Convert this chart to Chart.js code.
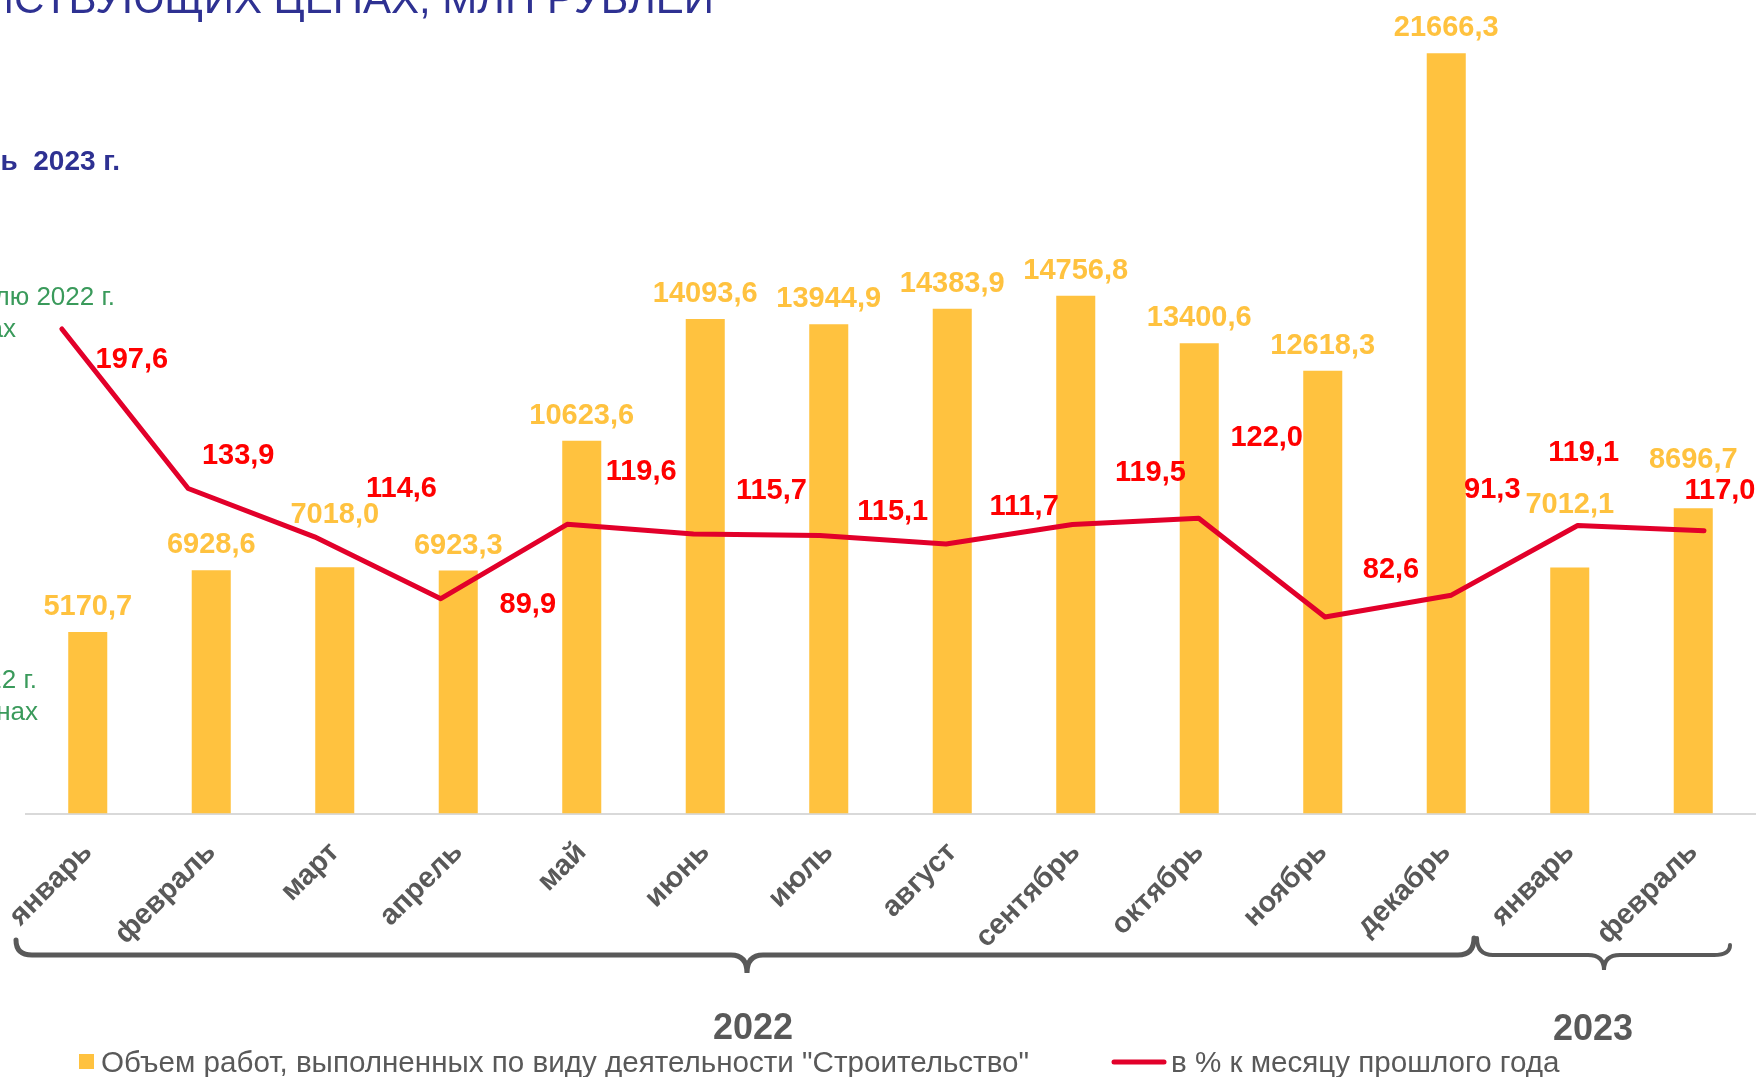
<!DOCTYPE html>
<html lang="ru">
<head>
<meta charset="utf-8">
<script src="https://cdn.jsdelivr.net/npm/chart.js@4.4.0/dist/chart.umd.min.js"></script>
<style>
  html, body { margin: 0; padding: 0; background: #fff; }
  canvas { display: block; }
</style>
</head>
<body>
<canvas id="chart" width="1760" height="1077"></canvas>
<script>
const months = ['январь', 'февраль', 'март', 'апрель', 'май', 'июнь', 'июль', 'август', 'сентябрь', 'октябрь', 'ноябрь', 'декабрь', 'январь', 'февраль'];
const years = ['2022', '2023'];
const volume = [5170.7, 6928.6, 7018.0, 6923.3, 10623.6, 14093.6, 13944.9, 14383.9, 14756.8, 13400.6, 12618.3, 21666.3, 7012.1, 8696.7];
const percentOfLastYear = [197.6, 133.9, 114.6, 89.9, 119.6, 115.7, 115.1, 111.7, 119.5, 122.0, 82.6, 91.3, 119.1, 117.0];
const volumeLabel = 'Объем работ, выполненных по виду деятельности "Строительство"';
const percentLabel = 'в % к месяцу прошлого года';

// labels on the slide were nudged by hand, keep the same nudges
const volumeLabelLift = [0, 0, 27, 0, 0, 0, 0, 0, 0, 0, 0, 0, 37, 23];
const percentLabelShift = [[70, 31], [50, -33], [87, -48], [87, 6], [74, -52], [78, -43], [73, -24], [78, -37], [78, -52], [68, -80], [66, -47], [41, -105], [6, -73], [16, -40]];

const FONT = '"Liberation Sans", Arial, sans-serif';
const GREY = '#595959';
const YELLOW = '#FFC23F';
const CRIMSON = '#E2002A';
const fmt = v => v.toFixed(1).replace('.', ',');

function drawBrace(ctx, x1, x2, xm, yL, yR, yLine, yTip, r, w) {
  ctx.save();
  ctx.strokeStyle = GREY;
  ctx.lineWidth = w;
  ctx.lineCap = 'round';
  ctx.beginPath();
  ctx.moveTo(x1, yL);
  ctx.quadraticCurveTo(x1, yLine, x1 + r, yLine);
  ctx.lineTo(xm - r, yLine);
  ctx.quadraticCurveTo(xm, yLine, xm, yTip);
  ctx.quadraticCurveTo(xm, yLine, xm + r, yLine);
  ctx.lineTo(x2 - r, yLine);
  ctx.quadraticCurveTo(x2, yLine, x2, yR);
  ctx.stroke();
  ctx.restore();
}

const slideDecor = {
  id: 'slideDecor',
  afterDatasetsDraw(chart) {
    const { ctx } = chart;
    const bars = chart.getDatasetMeta(0).data;
    const pts = chart.getDatasetMeta(1).data;
    ctx.save();
    ctx.font = 'bold 29px ' + FONT;
    ctx.textAlign = 'center';
    ctx.textBaseline = 'middle';
    ctx.fillStyle = YELLOW;
    bars.forEach((bar, i) => {
      ctx.fillText(fmt(volume[i]), bar.x, bar.y - 25 - volumeLabelLift[i]);
    });
    ctx.fillStyle = '#FF0000';
    pts.forEach((pt, i) => {
      const [dx, dy] = percentLabelShift[i];
      ctx.fillText(fmt(percentOfLastYear[i]), pt.x + dx, pt.y + dy);
    });
    ctx.restore();
  },
  afterDraw(chart) {
    const { ctx } = chart;
    ctx.save();

    // year braces under the month labels
    drawBrace(ctx, 16, 1474, 747, 940, 938, 955, 973, 16, 5);
    drawBrace(ctx, 1477, 1730, 1604, 938, 945, 955, 970, 16, 4);
    ctx.fillStyle = GREY;
    ctx.font = 'bold 36px ' + FONT;
    ctx.textAlign = 'center';
    ctx.textBaseline = 'alphabetic';
    ctx.fillText(years[0], 753, 1039);
    ctx.fillText(years[1], 1593, 1040);

    // legend
    ctx.fillStyle = YELLOW;
    ctx.fillRect(79, 1054, 15, 15);
    ctx.strokeStyle = CRIMSON;
    ctx.lineWidth = 5;
    ctx.lineCap = 'round';
    ctx.beginPath();
    ctx.moveTo(1114, 1062);
    ctx.lineTo(1164, 1062);
    ctx.stroke();
    ctx.fillStyle = GREY;
    ctx.font = '29.6px ' + FONT;
    ctx.textAlign = 'left';
    ctx.fillText(volumeLabel, 101, 1072);
    ctx.fillText(percentLabel, 1171, 1072);

    // pieces of the slide around the chart
    ctx.textAlign = 'right';
    ctx.fillStyle = '#2E3192';
    ctx.font = '42px ' + FONT;
    ctx.fillText('ОБЪЕМ РАБОТ В ДЕЙСТВУЮЩИХ ЦЕНАХ, МЛН РУБЛЕЙ', 714, 13);
    ctx.font = 'bold 28px ' + FONT;
    ctx.fillText('январь-февраль  2023 г.', 120, 170);
    ctx.fillStyle = '#3A9A5B';
    ctx.font = '26px ' + FONT;
    ctx.fillText('в % к январю-февралю 2022 г.', 115, 305);
    ctx.fillText('в сопоставимых ценах', 16, 337);
    ctx.fillText('январь-февраль 2022 г.', 37, 688);
    ctx.fillText('в действующих ценах', 38, 720);
    ctx.restore();
  }
};

new Chart(document.getElementById('chart'), {
  data: {
    labels: months,
    datasets: [
      {
        type: 'bar',
        label: volumeLabel,
        data: volume,
        backgroundColor: YELLOW,
        borderWidth: 0,
        grouped: false,
        barPercentage: 0.316,
        categoryPercentage: 1,
        xAxisID: 'x',
        yAxisID: 'y',
        order: 1
      },
      {
        type: 'line',
        label: percentLabel,
        data: percentOfLastYear.map((v, i) => ({ x: i, y: v })),
        borderColor: CRIMSON,
        borderWidth: 5,
        borderCapStyle: 'round',
        borderJoinStyle: 'round',
        pointRadius: 0,
        tension: 0,
        xAxisID: 'x2',
        yAxisID: 'y2',
        order: 0
      }
    ]
  },
  plugins: [slideDecor],
  options: {
    responsive: false,
    animation: false,
    devicePixelRatio: 1,
    layout: { padding: { left: 26, right: 5, top: 0, bottom: 0 } },
    plugins: {
      legend: { display: false },
      tooltip: { enabled: false }
    },
    scales: {
      x: {
        type: 'category',
        offset: true,
        grid: { display: false, drawTicks: false },
        border: { display: true, color: '#D9D9D9', width: 2 },
        ticks: {
          autoSkip: false,
          minRotation: 45,
          maxRotation: 45,
          padding: 22,
          color: GREY,
          font: { family: FONT, size: 29, weight: 'bold' }
        },
        afterFit(scale) {
          scale.height = 263.5;
          scale.paddingLeft = 0;
          scale.paddingRight = 0;
        }
      },
      x2: { type: 'linear', display: false, min: -0.284, max: 13.404 },
      y: { display: false, min: 0, max: 23181 },
      y2: { display: false, min: 4.1, max: 329 }
    }
  }
});
</script>
</body>
</html>
